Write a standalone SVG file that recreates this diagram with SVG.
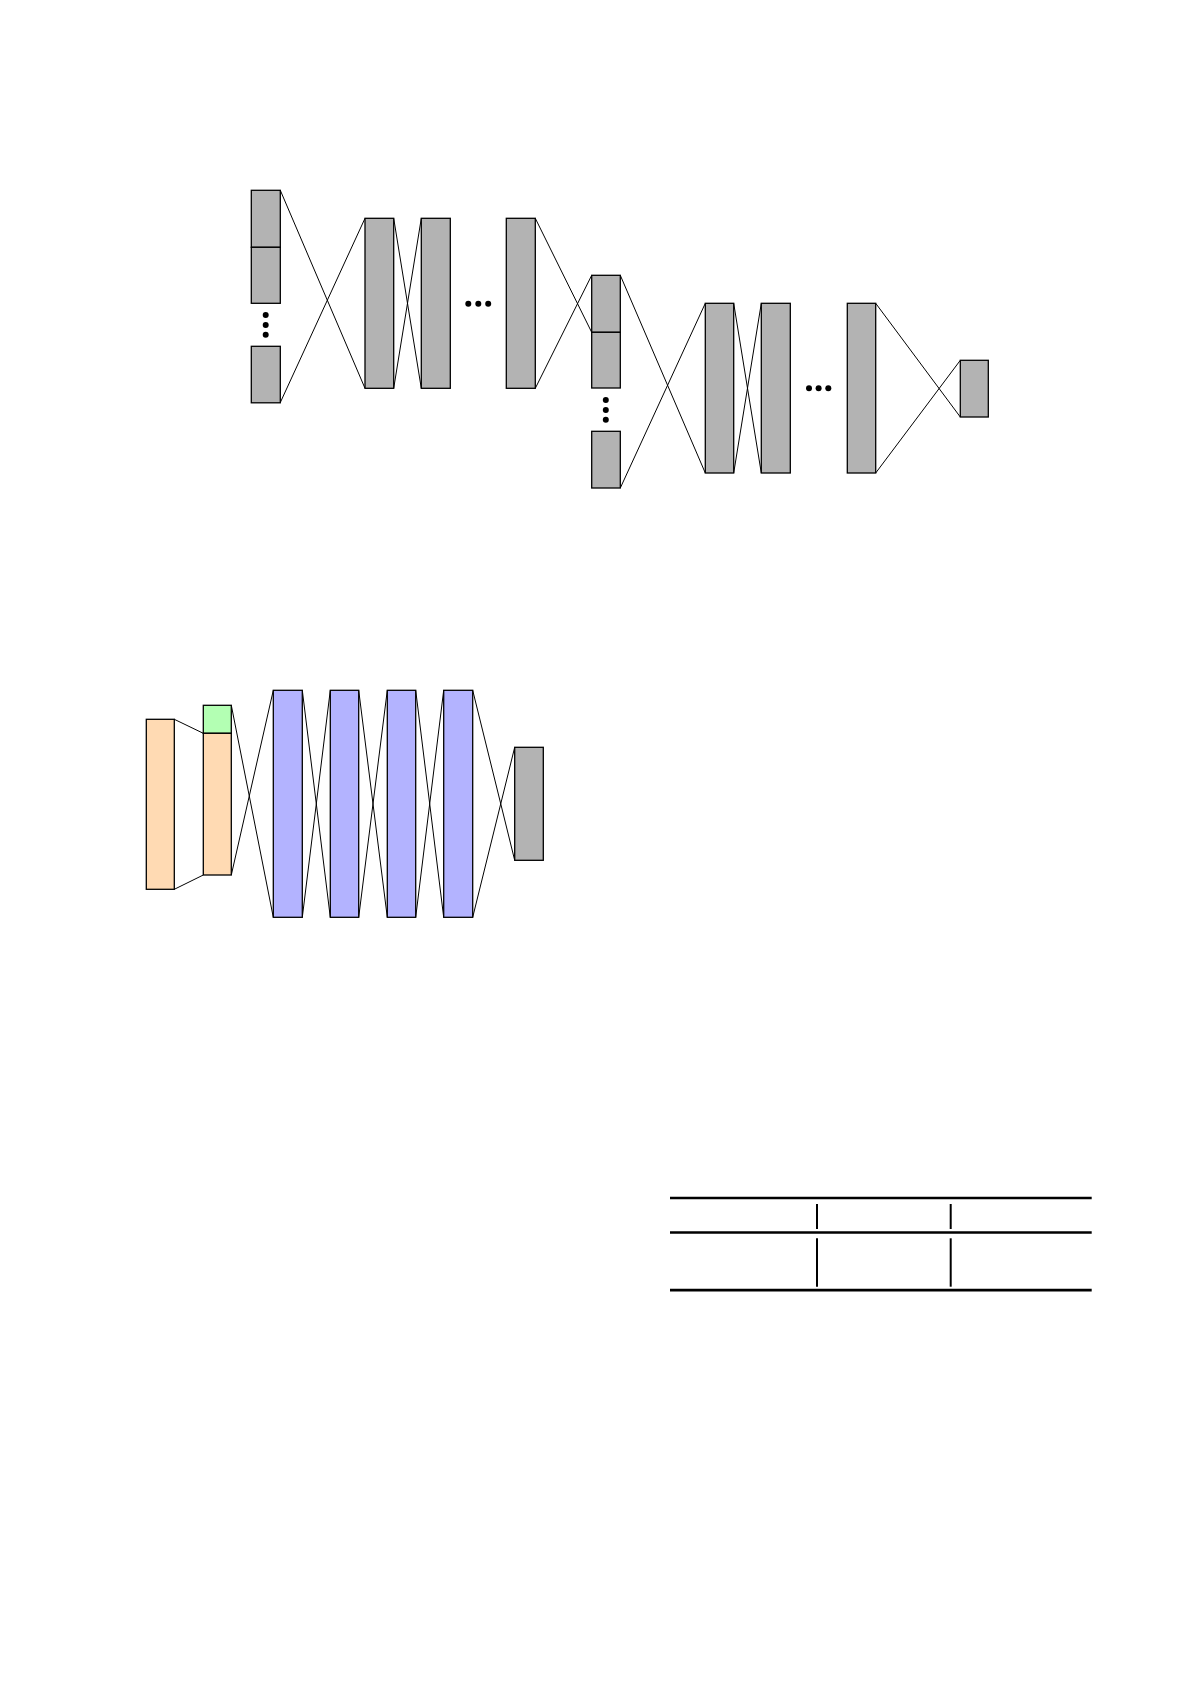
<svg xmlns="http://www.w3.org/2000/svg" width="1191" height="1685" viewBox="0 0 1191 1685">
<style>
.n{stroke:#000;stroke-width:1.3}
.g{fill:#b3b3b3}
.o{fill:#ffdab3}
.gr{fill:#b3ffb3}
.b{fill:#b3b3ff}
#connectors line{stroke:#000;stroke-width:1}
.dot{fill:#000}
.tb{stroke:#000;stroke-width:2.7}
.tv{stroke:#000;stroke-width:2}
</style>
<rect x="0" y="0" width="1191" height="1685" fill="#fff"/>
<g id="connectors">
<line x1="280.3" y1="190.3" x2="365" y2="388.3"/>
<line x1="280.3" y1="402.5" x2="365" y2="218.3"/>
<line x1="393.7" y1="218.3" x2="421.3" y2="388.3"/>
<line x1="393.7" y1="388.3" x2="421.3" y2="218.3"/>
<line x1="535.3" y1="218.3" x2="591.7" y2="332.3"/>
<line x1="535.3" y1="388.3" x2="591.7" y2="275.3"/>
<line x1="620.3" y1="275.3" x2="705.3" y2="473"/>
<line x1="620.3" y1="488" x2="705.3" y2="303.3"/>
<line x1="733.7" y1="303.3" x2="761.3" y2="473"/>
<line x1="733.7" y1="473" x2="761.3" y2="303.3"/>
<line x1="875.7" y1="303.3" x2="960.3" y2="417"/>
<line x1="875.7" y1="473" x2="960.3" y2="360.3"/>
<line x1="174.3" y1="719.3" x2="203.3" y2="733.3"/>
<line x1="174.3" y1="889.3" x2="203.3" y2="875"/>
<line x1="231.3" y1="705.3" x2="273.3" y2="917.3"/>
<line x1="231.3" y1="875" x2="273.3" y2="690.3"/>
<line x1="302.3" y1="690.3" x2="330.3" y2="917.3"/>
<line x1="302.3" y1="917.3" x2="330.3" y2="690.3"/>
<line x1="358.7" y1="690.3" x2="387.3" y2="917.3"/>
<line x1="358.7" y1="917.3" x2="387.3" y2="690.3"/>
<line x1="415.7" y1="690.3" x2="443.7" y2="917.3"/>
<line x1="415.7" y1="917.3" x2="443.7" y2="690.3"/>
<line x1="472.7" y1="690.3" x2="514.7" y2="860.3"/>
<line x1="472.7" y1="917.3" x2="514.7" y2="747.3"/>
</g>
<g id="nodeA1"><rect class="n g" x="251.3" y="190.3" width="29" height="57"/></g>
<g id="nodeA2"><rect class="n g" x="251.3" y="247.3" width="29" height="56"/></g>
<g id="dotsA"><circle class="dot" cx="265.7" cy="315" r="3"/><circle class="dot" cx="265.7" cy="325" r="3"/><circle class="dot" cx="265.7" cy="334.8" r="3"/></g>
<g id="nodeA3"><rect class="n g" x="251.3" y="346.3" width="29" height="56.5"/></g>
<g id="nodeB1"><rect class="n g" x="365" y="218.3" width="28.7" height="170"/></g>
<g id="nodeB2"><rect class="n g" x="421.3" y="218.3" width="29" height="170"/></g>
<g id="dotsB"><circle class="dot" cx="468.3" cy="303.7" r="3"/><circle class="dot" cx="478.3" cy="303.7" r="3"/><circle class="dot" cx="488.2" cy="303.7" r="3"/></g>
<g id="nodeB3"><rect class="n g" x="506.3" y="218.3" width="29" height="170"/></g>
<g id="nodeC1"><rect class="n g" x="591.7" y="275.3" width="28.6" height="57"/></g>
<g id="nodeC2"><rect class="n g" x="591.7" y="332.3" width="28.6" height="55.7"/></g>
<g id="dotsC"><circle class="dot" cx="605.8" cy="400" r="3"/><circle class="dot" cx="605.8" cy="410" r="3"/><circle class="dot" cx="605.8" cy="419.7" r="3"/></g>
<g id="nodeC3"><rect class="n g" x="591.7" y="431.3" width="28.6" height="56.7"/></g>
<g id="nodeD1"><rect class="n g" x="705.3" y="303.3" width="28.4" height="169.7"/></g>
<g id="nodeD2"><rect class="n g" x="761.3" y="303.3" width="29" height="169.7"/></g>
<g id="dotsD"><circle class="dot" cx="809" cy="388.3" r="3"/><circle class="dot" cx="818.6" cy="388.3" r="3"/><circle class="dot" cx="828.3" cy="388.3" r="3"/></g>
<g id="nodeD3"><rect class="n g" x="847.3" y="303.3" width="28.4" height="169.7"/></g>
<g id="nodeE"><rect class="n g" x="960.3" y="360.3" width="28" height="56.7"/></g>
<g id="nodeF1"><rect class="n o" x="146.3" y="719.3" width="28" height="170"/></g>
<g id="nodeF2g"><rect class="n gr" x="203.3" y="705.3" width="28" height="28"/></g>
<g id="nodeF2"><rect class="n o" x="203.3" y="733.3" width="28" height="141.7"/></g>
<g id="nodeG1"><rect class="n b" x="273.3" y="690.3" width="29" height="227"/></g>
<g id="nodeG2"><rect class="n b" x="330.3" y="690.3" width="28.4" height="227"/></g>
<g id="nodeG3"><rect class="n b" x="387.3" y="690.3" width="28.4" height="227"/></g>
<g id="nodeG4"><rect class="n b" x="443.7" y="690.3" width="29" height="227"/></g>
<g id="nodeH"><rect class="n g" x="514.7" y="747.3" width="28.6" height="113"/></g>
<g id="table">
<line class="tb" x1="670" y1="1198" x2="1091.7" y2="1198"/>
<line class="tb" x1="670" y1="1232.5" x2="1091.7" y2="1232.5"/>
<line class="tb" x1="670" y1="1290.2" x2="1091.7" y2="1290.2"/>
<line class="tv" x1="817" y1="1204" x2="817" y2="1229"/>
<line class="tv" x1="817" y1="1238.3" x2="817" y2="1286.7"/>
<line class="tv" x1="950.7" y1="1204" x2="950.7" y2="1229"/>
<line class="tv" x1="950.7" y1="1238.3" x2="950.7" y2="1286.7"/>
</g>
</svg>
